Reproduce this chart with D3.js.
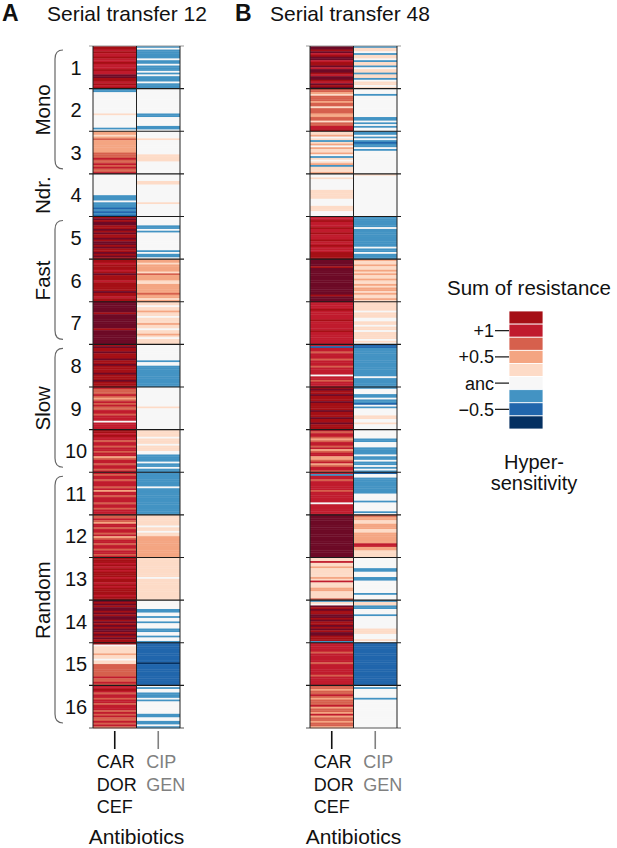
<!DOCTYPE html>
<html>
<head>
<meta charset="utf-8">
<script src="https://d3js.org/d3.v7.min.js"></script>
<style>
    body { margin: 0; background: #fff; }
    svg text { font-family: "Liberation Sans", Arial, sans-serif; fill: #111; }
</style>
<title>Sum of resistance heatmap</title>
</head>
<body>
<div id="chart"></div>
<script>
    // groups (treatment regimes 1..16) and the two antibiotic columns
    const groups = d3.range(1, 17);
    const antibiotics = ["CAR DOR CEF", "CIP GEN"];
    const antibioticLabels = [["CAR", "DOR", "CEF"], ["CIP", "GEN"]];

    // level codes -> colours (sum of resistance relative to ancestor)
    const levelCodes = ["m", "d", "r", "s", "o", "p", "w", "l", "b", "n"];
    const levelColors = ["#6d0a26", "#a50f15", "#c01b2d", "#d6604d", "#f4a582",
        "#fddbc7", "#f7f7f7", "#4393c3", "#2166ac", "#053061"];

    // legend
    const legendCodes = ["d", "r", "s", "o", "p", "w", "l", "b", "n"];
    const legendTickCodes = ["r", "o", "w", "b"];
    const legendTickLabels = ["+1", "+0.5", "anc", "\u22120.5"];

    // regimes on the left
    const regimes = ["Mono", "Ndr.", "Fast", "Slow", "Random"];
    const regimeFirst = [1, 4, 5, 8, 11];
    const regimeLast = [3, 4, 7, 10, 16];
    const regimeBrace = [true, false, true, true, true];

    // one string per group, one character per population
    const t12CarDorCef = [
        "ddrdrrdrrdrrrdrrmmddrdrd", "llwwwwwwwwwwwwpwwwwwwwlw", "ooposooooooosssrssrsrssr",
        "wwwwwwwwwwwwlllwlllblblb", "dmdmmddmdmddmdmmdmddmdmd", "ddrdddrdmdddrdddddmddrdd",
        "mmmmmmdmmmmmmmmdmmmmmmmm", "dmddmdddmddmddddmdddmddd", "rsssrsosrsrssrrsrrrwrrrr",
        "ddrdrrsrrsrrsrrosrrsrrsr", "rsrrsrrrsrorrsrrrsrrsrrr", "ssrsorrsrrsrosrrsrrsrrsr",
        "dddrdrdrdddrddrdrddddrdd", "mdmdmmdmdmmdmdmdmmdmdmdd", "dwppppoppwppsssssssrssrs",
        "rrdrsrrsrrsrrrsrsrssrsrs"
    ];
    const t12CipGen = [
        "lwlllllwllwlllwlwlllwlll", "wwwwwwwwwwwwwwllwwwwwllw", "wwwwpwwwwwwwwppppwwwwwww",
        "wwwwppwwwwwwwwwwpwwwwwww", "wwwwwllwlwwwwwwwwwwlwllw", "oopoooopsoooppooooosoopo",
        "ppwppoppwpppoppwppopwppp", "wwwwwwwwwlwwllllllllllll", "wwwwwwwwwwwpwwwwwwwwwwww",
        "ppppwpppwpppwwllllwllwll", "llllllllwlllllllllllllll", "ppppppwppwppoooooooooooo",
        "pppppppppppwpppppppppppp", "wwwwwllwwlwwlwwwllwwlwwl", "bbbbbbbbbbbnbbbbbbbbbbbb",
        "wlwwlllwlwwwwwwwllwwllwl"
    ];
    const t48CarDorCef = [
        "mmdmrdmmrddmrmmdrmmdrmdm", "ssopsssosspsssoosspssrrd", "ppowplpowoppowlpwpolpppo",
        "wwpwwwwwwpppppwwwwpppwww", "rrdrrrdrrdrrrdrrdrrrdddd", "mmmmdmmmmmmmmmmmmmmmdmmm",
        "rrrrdrrrrrdrrrrrdrrrrrrr", "rbrrsrrrsrrrsrrrrwrrsrrr", "dmddmdddmddddmdddmddmddd",
        "rsrrsosrrsrosrroosrosrrs", "rlrrsrrrrrsrrrrrrwrrrrrr", "mmmmmmmmmmmmmmmmmmmmmmmm",
        "pprppopppppoprpppoopppps", "lpwmdmddmmdmddmdmdmmdddl", "rrrrrsrrrrrsrrrrrrsrrrrr",
        "ssossrsosssrossorossosso"
    ];
    const t48CipGen = [
        "lppwlppwlpplwpplpplwppwp", "wwwlwwwwwwwwwwwwllwlwlww", "llwlwlbllwlwwwwwwwwwwwww",
        "pwwwwwwwwwwwwwwwwwwwwwww", "llllllwllllllllllwllwlll", "oppoppopoppoppopoopoppop",
        "pppppwpppwwppwppwppppwpw", "bbllllllllllllllllwlllll", "lwwwllwllbwlwwwwppwwpwww",
        "wwwwwllwwwllllwllwllwlwl", "bwwlllllllllwwwwlwwwwwlw", "sooppoooppoooooorroopppp",
        "wwwwwwllwwwllwwwwwwwlwww", "lppllwwwlwwwwwwwpppwwwpw", "bbbbbbbbbbbbbbbbbbbbbbbb",
        "wlwwwwwlwwwwwwwwwwwwwwww"
    ];

    const width = 617, height = 848;
    const yTop = 46, yBottom = 728;

    const color = d3.scaleOrdinal().domain(levelCodes).range(levelColors);

    const svg = d3.select("#chart").append("svg")
        .attr("width", width)
        .attr("height", height);

    const y = d3.scaleBand().domain(groups).range([yTop, yBottom]);

    function drawPanel(left, colData, letter, title, letterX, titleX) {
        const x = d3.scaleBand().domain(antibiotics).range([left, left + 87]);
        const right = left + 87;
        const g = svg.append("g");

        // heatmap rows
        antibiotics.forEach(function (ab, ci) {
            colData[ci].forEach(function (str, gi) {
                const codes = str.split("");
                const y0 = y(groups[gi]);
                const row = d3.scaleBand().domain(d3.range(codes.length))
                    .range([y0, y0 + y.bandwidth()]);
                g.append("g").selectAll("rect")
                    .data(codes)
                    .enter()
                    .append("rect")
                    .attr("x", x(ab))
                    .attr("width", x.bandwidth())
                    .attr("y", (c, i) => row(i))
                    .attr("height", row.bandwidth() + 0.4)
                    .attr("fill", c => color(c));
            });
        });

        // group separators
        const bounds = groups.map(d => y(d)).concat([yBottom]);
        g.append("g").selectAll("line")
            .data(bounds)
            .enter()
            .append("line")
            .attr("x1", left - 4)
            .attr("x2", right + 4)
            .attr("y1", d => d)
            .attr("y2", d => d)
            .attr("stroke", (d, i) => i === 0 ? "#999" : (i === bounds.length - 1 ? "#555" : "#1a1a1a"))
            .attr("stroke-width", 1.2);

        // column borders
        g.append("g").selectAll("line")
            .data([left, x(antibiotics[1]), right])
            .enter()
            .append("line")
            .attr("x1", d => d)
            .attr("x2", d => d)
            .attr("y1", yTop)
            .attr("y2", yBottom)
            .attr("stroke", "#222")
            .attr("stroke-width", 1);

        // bottom ticks and labels
        antibiotics.forEach(function (ab, ci) {
            const cx = x(ab) + x.bandwidth() / 2;
            const tone = ci === 0 ? "#111" : "#808080";
            g.append("line")
                .attr("x1", cx).attr("x2", cx)
                .attr("y1", 731).attr("y2", 749)
                .attr("stroke", tone)
                .attr("stroke-width", 1.6);
            g.append("g").selectAll("text")
                .data(antibioticLabels[ci])
                .enter()
                .append("text")
                .attr("x", cx - (ci === 0 ? 18 : 12))
                .attr("y", (d, i) => 768 + i * 22.5)
                .style("font-size", "18px")
                .style("fill", tone)
                .text(d => d);
        });

        g.append("text")
            .attr("x", x(antibiotics[1]))
            .attr("y", 844)
            .attr("text-anchor", "middle")
            .style("font-size", "21px")
            .text("Antibiotics");

        // titles
        svg.append("text")
            .attr("x", letterX)
            .attr("y", 21)
            .style("font-size", "23px")
            .style("font-weight", "bold")
            .text(letter);
        svg.append("text")
            .attr("x", titleX)
            .attr("y", 21)
            .style("font-size", "21px")
            .text(title);
    }

    drawPanel(93, [t12CarDorCef, t12CipGen], "A", "Serial transfer 12", 2, 47);
    drawPanel(310, [t48CarDorCef, t48CipGen], "B", "Serial transfer 48", 235, 270);

    // group numbers
    svg.append("g").selectAll("text")
        .data(groups)
        .enter()
        .append("text")
        .attr("x", 76)
        .attr("y", d => y(d) + y.bandwidth() / 2)
        .attr("dy", "0.36em")
        .attr("text-anchor", "middle")
        .style("font-size", "20px")
        .text(d => d);

    // regime labels and braces
    regimes.forEach(function (name, i) {
        const y0 = y(regimeFirst[i]);
        const y1 = y(regimeLast[i]) + y.bandwidth();
        svg.append("text")
            .attr("transform", "translate(50," + ((y0 + y1) / 2) + ") rotate(-90)")
            .attr("text-anchor", "middle")
            .style("font-size", "20.5px")
            .text(name);
        if (regimeBrace[i]) {
            const a = y0 + 4, b = y1 - 5;
            svg.append("path")
                .attr("d", "M63," + a + " Q55," + a + " 55," + (a + 9) +
                    " L55," + (b - 9) + " Q55," + b + " 63," + b)
                .attr("fill", "none")
                .attr("stroke", "#666")
                .attr("stroke-width", 1.2);
        }
    });

    // legend
    const legendY = d3.scaleBand().domain(legendCodes).range([311, 429]);
    const legend = svg.append("g");
    legend.append("text")
        .attr("x", 529)
        .attr("y", 295)
        .attr("text-anchor", "middle")
        .style("font-size", "20.5px")
        .text("Sum of resistance");
    legend.selectAll("rect")
        .data(legendCodes)
        .enter()
        .append("rect")
        .attr("x", 509)
        .attr("width", 34)
        .attr("y", d => legendY(d))
        .attr("height", legendY.bandwidth())
        .attr("fill", d => color(d))
        .attr("stroke", "#fff")
        .attr("stroke-width", 0.8);
    legendTickCodes.forEach(function (code, i) {
        const cy = legendY(code) + legendY.bandwidth() / 2;
        legend.append("line")
            .attr("x1", 495).attr("x2", 509)
            .attr("y1", cy).attr("y2", cy)
            .attr("stroke", "#111")
            .attr("stroke-width", 1.2);
        legend.append("text")
            .attr("x", 494)
            .attr("y", cy)
            .attr("dy", "0.36em")
            .attr("text-anchor", "end")
            .style("font-size", "18px")
            .text(legendTickLabels[i]);
    });
    legend.selectAll(".hs")
        .data(["Hyper-", "sensitivity"])
        .enter()
        .append("text")
        .attr("x", 534)
        .attr("y", (d, i) => 469 + i * 21)
        .attr("text-anchor", "middle")
        .style("font-size", "20px")
        .text(d => d);
</script>
</body>
</html>
